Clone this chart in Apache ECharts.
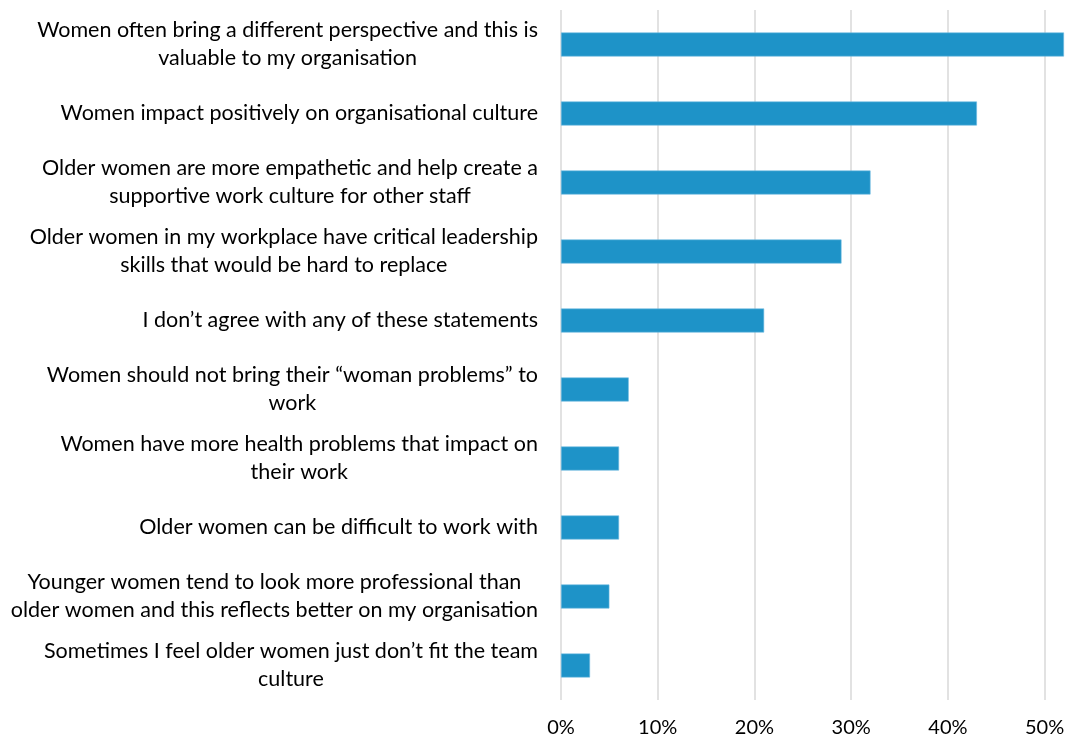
<!DOCTYPE html>
<html>
<head>
<meta charset="utf-8">
<script src="https://cdn.jsdelivr.net/npm/echarts@6/dist/echarts.min.js"></script>
<style>
  html, body { margin: 0; padding: 0; background: #fff; }
  #chart { width: 1074px; height: 738px; }
</style>
</head>
<body>
<div id="chart"></div>
<script>
// statements, top to bottom as shown
var categories = [
  'Women often bring a different perspective and this is\nvaluable to my organisation',
  'Women impact positively on organisational culture',
  'Older women are more empathetic and help create a\nsupportive work culture for other staff',
  'Older women in my workplace have critical leadership\nskills that would be hard to replace',
  'I don\u2019t agree with any of these statements',
  'Women should not bring their \u201cwoman problems\u201d to\nwork',
  'Women have more health problems that impact on\ntheir work',
  'Older women can be difficult to work with',
  'Younger women tend to look more professional than\nolder women and this reflects better on my organisation',
  'Sometimes I feel older women just don\u2019t fit the team\nculture'
];
// share of respondents (%)
var values = [52, 43, 32, 29, 21, 7, 6, 6, 5, 3];

var chart = echarts.init(document.getElementById('chart'));

var fontName = 'Lato, "Open Sans", sans-serif';

var option = {
  animation: false,
  grid: {
    left: 561,
    width: 532,   // runs past the right edge so the 55% line is off-canvas
    top: 10,
    bottom: 38,
    containLabel: false,
    outerBoundsMode: 'none'
  },
  xAxis: {
    type: 'value',
    min: 0,
    max: 55,
    interval: 10,
    axisLine: { show: false },
    axisTick: { show: false },
    splitLine: { lineStyle: { color: '#d9d9d9', width: 1.5 } },
    axisLabel: {
      showMaxLabel: false,
      margin: 18,
      color: '#000',
      fontSize: 20,
      fontFamily: fontName,
      formatter: function (v) { return v + '%'; }
    }
  },
  yAxis: {
    type: 'category',
    inverse: true,
    data: categories,
    axisLine: { show: false },
    axisTick: { show: false },
    axisLabel: {
      margin: 23,
      formatter: function (v) {
        return v.split('\n').map(function (s) { return '{a|' + s + '}'; }).join('\n');
      },
      rich: {
        a: {
          align: 'center',
          color: '#000',
          fontSize: 21.5,
          lineHeight: 28,
          fontFamily: fontName
        }
      }
    }
  },
  series: [{
    type: 'bar',
    data: values,
    barWidth: 24,
    itemStyle: { color: '#1e93c8', borderColor: '#6fbbe0', borderWidth: 0.6 }
  }]
};

chart.setOption(option);
</script>
</body>
</html>
